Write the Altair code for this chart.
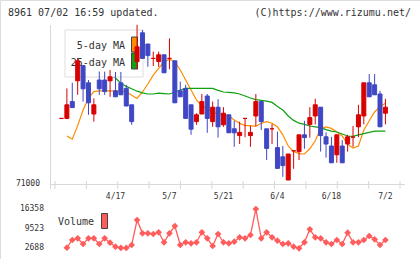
import altair as alt
import numpy as np
import pandas as pd

# Daily candles for 8961 (yen)
OPEN = [72640, 72640, 73060, 73580, 73960, 73530, 72750, 73600, 73600, 73580,
        73330, 73530, 73390, 72980, 74060, 74780, 74500, 74140, 74060, 74230,
        74140, 74080, 73330, 73390, 72980, 72560, 72750, 73200, 72560, 72920,
        72480, 72730, 72380, 72210, 72640, 72210, 72700, 73060, 72380, 72380,
        71910, 71680, 71100, 71830, 71810, 72230, 72490, 72700, 72920, 72180,
        71950, 71730, 71950, 72000, 72170, 72430, 72700, 73530, 73480, 73250,
        72770]
HIGH = [72640, 73390, 73530, 74150, 73960, 73600, 73140, 73810, 73810, 73850,
        73800, 73800, 73480, 72980, 74980, 74850, 74500, 74310, 74310, 74230,
        74640, 74080, 73560, 73480, 72980, 72770, 73250, 73250, 73060, 73120,
        72920, 72730, 72580, 72560, 72640, 72450, 73250, 73060, 72380, 72500,
        72310, 71950, 71750, 71830, 72230, 72580, 72920, 73130, 72920, 72290,
        72180, 72230, 72100, 72230, 72450, 72980, 73530, 73750, 73750, 73330,
        73130]
LOW = [72640, 72640, 72910, 73230, 73060, 72730, 72560, 73230, 73230, 73180,
       73180, 73230, 72950, 72480, 73870, 74140, 73930, 73950, 73930, 73780,
       73870, 73030, 73180, 72640, 72230, 72480, 72750, 72280, 72430, 72160,
       72430, 72280, 71930, 72000, 72170, 71930, 72450, 72350, 71600, 72000,
       71390, 71180, 71100, 71380, 71600, 71880, 72160, 72490, 71810, 71660,
       71530, 71530, 71530, 71810, 71930, 72170, 72490, 73180, 73230, 72430,
       72490]
CLOSE = [72640, 72980, 72910, 74080, 73380, 73030, 72980, 73380, 73310, 73680,
         73180, 73230, 72950, 72560, 74430, 74140, 74210, 74140, 74230, 73780,
         74140, 73030, 73180, 72640, 72370, 72730, 73060, 72640, 72920, 72430,
         72770, 72280, 72280, 72290, 72640, 72290, 73060, 72560, 71890, 72380,
         71390, 71460, 71750, 71830, 72230, 72160, 72660, 72980, 72210, 72000,
         71530, 72230, 71530, 72180, 72170, 72730, 73530, 73180, 73230, 72430,
         72920]

# Moving averages (first session has none)
MA5 = [None, 72200, 72120, 72460, 72850, 73150, 73310, 73330, 73330, 73330,
       73320, 73320, 73310, 73220, 73140, 73300, 73500, 73720, 73890, 74050,
       74120, 74050, 73850, 73600, 73350, 73100, 72950, 72890, 72800, 72750,
       72750, 72700, 72600, 72520, 72460, 72460, 72440, 72520, 72560, 72520,
       72430, 72230, 71950, 71810, 71760, 71750, 71880, 72080, 72390, 72430,
       72390, 72300, 72200, 71990, 71900, 71950, 72350, 72580, 72800, 72930,
       73020]
MA25 = [None, 74300, 74210, 74150, 74080, 74010, 73950, 73880, 73800, 73720,
        73650, 73520, 73440, 73380, 73320, 73280, 73250, 73250, 73270, 73260,
        73250, 73300, 73350, 73390, 73390, 73390, 73390, 73390, 73390, 73340,
        73300, 73290, 73280, 73250, 73200, 73150, 73110, 73090, 73070, 73040,
        72940, 72850, 72700, 72590, 72520, 72490, 72450, 72430, 72410, 72360,
        72320, 72300, 72250, 72200, 72190, 72230, 72260, 72290, 72320, 72320,
        72320]

# Daily volume
VOLUME = [None, 2900, 5580, 6170, 4180, 6170, 6170, 4180, 6170, 4640,
          3250, 2800, 2800, 3840, 12530, 7900, 7900, 7660, 8250, 4780,
          7900, 10440, 3840, 4780, 4430, 4780, 8250, 6170, 3490, 7660,
          4780, 4430, 4980, 6510, 6170, 7310, 16358, 6170, 8250, 6510,
          5330, 4180, 4430, 3250, 2688, 4780, 9300, 6510, 6170, 4780,
          4180, 5580, 4180, 8110, 4780, 4780, 5580, 6970, 5820, 3840,
          5580]

DATE_LABELS = ["4/17", "5/7", "5/21", "6/4", "6/18", "7/2"]
DATE_AT = [10, 20, 30, 40, 50, 60]

RED = "#d90000"
BLUE = "#3f47c4"
ORANGE = "#ff8c00"
GREEN = "#10a010"
VOLC = "#ff5c5c"
GRID = "#d8d8d8"
INK = "#333333"
MONO = "DejaVu Sans Mono"

df = pd.DataFrame({
    "i": list(range(len(OPEN))), "open": OPEN, "high": HIGH, "low": LOW,
    "close": CLOSE, "ma5": MA5, "ma25": MA25, "volume": VOLUME,
})

X_LO, X_HI = -1.2, 62.7
xs = alt.Scale(domain=[X_LO, X_HI], range=[50, 405], nice=False, zero=False)
ps = alt.Scale(domain=[71000, 75100], range=[184, 20], nice=False, zero=False)
vol = [v for v in VOLUME if v is not None]
vmin, vmax = min(vol), max(vol)
vs = alt.Scale(domain=[vmin, vmax], range=[248.3, 209], nice=False, zero=False)

X = alt.X("i:Q", scale=xs, axis=None)
one = pd.DataFrame({"k": [0]})
up = "datum.close >= datum.open"

# frame: left spine, baseline and ticks
spine = alt.Chart(one).mark_rule(color=GRID, strokeWidth=1).encode(
    x=alt.value(50.5), y=alt.value(25), y2=alt.value(189))
base = alt.Chart(one).mark_rule(color=GRID, strokeWidth=1).encode(
    x=alt.value(50), x2=alt.value(405), y=alt.value(184.5))
ticks = alt.Chart(pd.DataFrame({"t": np.linspace(X_LO, X_HI, 12)})).mark_rule(
    color=GRID, strokeWidth=1).encode(
    x=alt.X("t:Q", scale=xs, axis=None), y=alt.value(181), y2=alt.value(189))

ma5 = alt.Chart(df).mark_line(color=ORANGE, strokeWidth=1.2).encode(
    x=X, y=alt.Y("ma5:Q", scale=ps, axis=None))
ma25 = alt.Chart(df).mark_line(color=GREEN, strokeWidth=1.2).encode(
    x=X, y=alt.Y("ma25:Q", scale=ps, axis=None))

# moving-average legend
lg_box = alt.Chart(one).mark_rect(fill="white", stroke="#dddddd", strokeWidth=1).encode(
    x=alt.value(65), x2=alt.value(143), y=alt.value(30), y2=alt.value(77))
lg_text = alt.Chart(pd.DataFrame({"t": ["5-day MA", "25-day MA"], "y": [46, 63]})).mark_text(
    align="right", baseline="middle", font=MONO, fontSize=10, color=INK).encode(
    x=alt.value(125), y=alt.Y("y:Q", scale=None), text="t:N")
lg_sw = alt.Chart(pd.DataFrame({"y": [37, 53], "y2": [52, 69], "c": [ORANGE, GREEN]})).mark_rect(
    stroke="#444444", strokeWidth=1).encode(
    x=alt.value(131.5), x2=alt.value(137.5),
    y=alt.Y("y:Q", scale=None), y2="y2:Q", fill=alt.Fill("c:N", scale=None))

wick = alt.Chart(df).mark_rule(strokeWidth=1).encode(
    x=X, y=alt.Y("high:Q", scale=ps, axis=None), y2="low:Q",
    color=alt.condition(up, alt.value(RED), alt.value(BLUE)))
body = alt.Chart(df).mark_bar(size=4, strokeWidth=1).encode(
    x=X, y=alt.Y("open:Q", scale=ps, axis=None), y2="close:Q",
    color=alt.condition(up, alt.value(RED), alt.value(BLUE)),
    stroke=alt.condition(up, alt.value(RED), alt.value(BLUE)))

price_lbl = alt.Chart(pd.DataFrame({"p": [71000]})).mark_text(
    align="right", baseline="middle", font=MONO, fontSize=8, color=INK).encode(
    x=alt.value(40), y=alt.Y("p:Q", scale=ps, axis=None), text="p:Q")

date_lbl = alt.Chart(pd.DataFrame({"i": DATE_AT, "d": DATE_LABELS})).mark_text(
    align="center", baseline="middle", font=MONO, fontSize=8, color=INK).encode(
    x=X, y=alt.value(197), text="d:N")

vline = alt.Chart(df).mark_line(color=VOLC, strokeWidth=1.3).encode(
    x=X, y=alt.Y("volume:Q", scale=vs, axis=None))
vpts = alt.Chart(df).mark_point(shape="diamond", filled=True, size=45, opacity=1,
                                color=VOLC).encode(
    x=X, y=alt.Y("volume:Q", scale=vs, axis=None))

vticks = [vmax, round((vmin + vmax) / 2), vmin]
vol_lbl = alt.Chart(pd.DataFrame({"v": vticks})).mark_text(
    align="right", baseline="middle", font=MONO, fontSize=8, color=INK).encode(
    x=alt.value(44), y=alt.Y("v:Q", scale=vs, axis=None), text="v:Q")

vl_text = alt.Chart(one).mark_text(align="left", baseline="middle", font=MONO,
                                   fontSize=10, color=INK, text="Volume").encode(
    x=alt.value(58), y=alt.value(222))
vl_sw = alt.Chart(one).mark_rect(fill=VOLC, stroke="#444444", strokeWidth=1).encode(
    x=alt.value(101.5), x2=alt.value(107.5), y=alt.value(213.5), y2=alt.value(228.5))

head_l = alt.Chart(one).mark_text(align="left", baseline="middle", font=MONO,
                                  fontSize=10, color=INK,
                                  text="8961 07/02 16:59 updated.").encode(
    x=alt.value(8), y=alt.value(13))
head_r = alt.Chart(one).mark_text(align="right", baseline="middle", font=MONO,
                                  fontSize=10, color=INK,
                                  text="(C)https://www.rizumu.net/").encode(
    x=alt.value(411), y=alt.value(13))

chart = alt.layer(
    spine, base, ticks, ma5, ma25, lg_box, lg_text, lg_sw, wick, body,
    price_lbl, date_lbl, vline, vpts, vol_lbl, vl_text, vl_sw, head_l, head_r,
).resolve_scale(y="independent", fill="independent").properties(
    width=420, height=259, padding=0,
    autosize=alt.AutoSizeParams(type="none"),
).configure_view(stroke=None).configure(background="white")

chart.save("out.html", embed_options={"renderer": "svg", "actions": False})
